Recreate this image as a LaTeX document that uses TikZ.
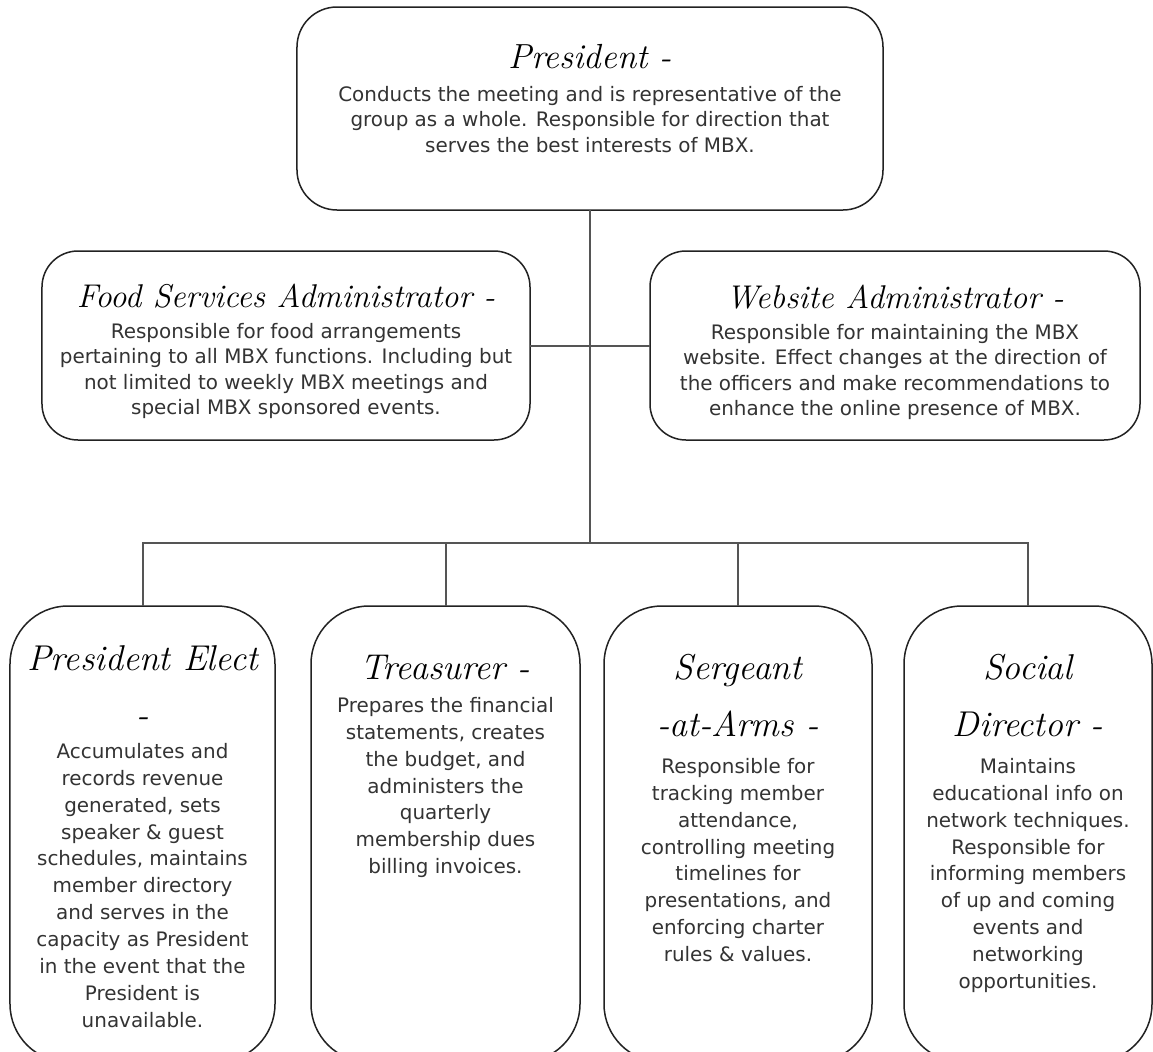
\documentclass[tikz,border=0pt]{standalone}
\usepackage{fontspec}
\newfontfamily\bodyfont{DejaVu Sans}
\definecolor{bodytxt}{HTML}{333333}
\definecolor{linecol}{HTML}{555555}
\definecolor{boxcol}{HTML}{222222}
\begin{document}
\begin{tikzpicture}[x=1bp,y=-1bp,
  orgbox/.style={draw=boxcol, line width=1.5bp, inner sep=0pt, outer sep=0pt, fill=white},
  conn/.style={draw=linecol, line width=2bp},
  ttl/.style={font=\itshape\fontsize{#1}{#1}\selectfont, inner sep=0pt, text=black},
  ttlm/.style={font=\itshape\fontsize{36}{57}\selectfont, inner sep=0pt, text=black, align=center, anchor=north},
  bodytop/.style={font=\bodyfont\fontsize{20}{25.6}\selectfont, inner sep=0pt, text=bodytxt, align=center, anchor=north},
  bodybot/.style={font=\bodyfont\fontsize{20}{27}\selectfont, inner sep=0pt, text=bodytxt, align=center, anchor=north}]
\useasboundingbox (0,0) rectangle (1153,1052);
\clip (0,0) rectangle (1153,1052);
\fill[white] (0,0) rectangle (1153,1052);

% boxes
\node[orgbox, rounded corners=40bp, minimum width=586bp, minimum height=203bp] (pres) at (590,108.5) {};
\node[orgbox, rounded corners=36bp, minimum width=488bp, minimum height=189bp] (food) at (286,345.5) {};
\node[orgbox, rounded corners=36bp, minimum width=490bp, minimum height=189bp] (web) at (895,345.5) {};
\node[orgbox, rounded corners=58bp, minimum width=265bp, minimum height=456bp] (pe) at (142.5,834) {};
\node[orgbox, rounded corners=58bp, minimum width=269bp, minimum height=456bp] (tre) at (445.5,834) {};
\node[orgbox, rounded corners=58bp, minimum width=268bp, minimum height=456bp] (ser) at (738,834) {};
\node[orgbox, rounded corners=58bp, minimum width=248bp, minimum height=456bp] (soc) at (1028,834) {};

% connectors
\coordinate (busc) at (590,543);
\draw[conn] (pres.south) -- (busc);
\draw[conn] (food.east) -- (web.west);
\draw[conn] (pe.north) -- (pe.north |- busc) -- (soc.north |- busc) -- (soc.north);
\draw[conn] (tre.north) -- (tre.north |- busc);
\draw[conn] (ser.north) -- (ser.north |- busc);

% President
\node[ttl=35, anchor=base] (presT) at (590,68) {President -};
\node[bodytop] (presB) at (590,86) {Conducts the meeting and is representative of the\\group as a whole. Responsible for direction that\\serves the best interests of MBX.};

% Food
\node[ttl=33, anchor=base] (foodT) at (286,307) {Food Services Administrator -};
\node[bodytop] (foodB) at (286,323) {Responsible for food arrangements\\pertaining to all MBX functions. Including but\\not limited to weekly MBX meetings and\\special MBX sponsored events.};

% Website
\node[ttl=33, anchor=base] (webT) at (895,308) {Website Administrator -};
\node[bodytop] (webB) at (895,324) {Responsible for maintaining the MBX\\website. Effect changes at the direction of\\the officers and make recommendations to\\enhance the online presence of MBX.};

% President Elect
\node[ttlm] (peT) at (142.5,645) {President Elect\\-};
\node[bodybot] (peB) at (142.5,743) {Accumulates and\\records revenue\\generated, sets\\speaker \& guest\\schedules, maintains\\member directory\\and serves in the\\capacity as President\\in the event that the\\President is\\unavailable.};

% Treasurer
\node[ttl=36, anchor=base] (treT) at (445.5,679) {Treasurer -};
\node[bodybot] (treB) at (445.5,697) {Prepares the financial\\statements, creates\\the budget, and\\administers the\\quarterly\\membership dues\\billing invoices.};

% Sergeant
\node[ttlm] (serT) at (738,654) {Sergeant\\-at-Arms -};
\node[bodybot] (serB) at (738,758) {Responsible for\\tracking member\\attendance,\\controlling meeting\\timelines for\\presentations, and\\enforcing charter\\rules \& values.};

% Social
\node[ttlm] (socT) at (1028,654) {Social\\Director -};
\node[bodybot] (socB) at (1028,758) {Maintains\\educational info on\\network techniques.\\Responsible for\\informing members\\of up and coming\\events and\\networking\\opportunities.};
\end{tikzpicture}
\end{document}
